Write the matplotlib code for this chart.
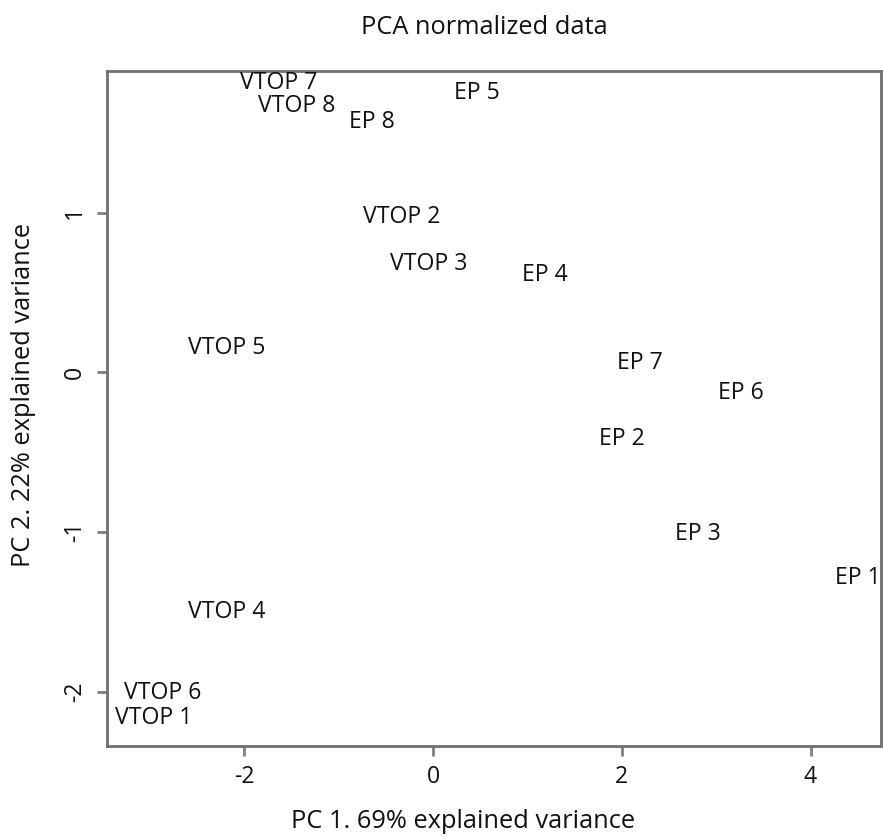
import matplotlib
matplotlib.use("Agg")
import matplotlib.pyplot as plt

# Data (PC1, PC2 scores)
labels = ["VTOP 7", "VTOP 8", "EP 8", "EP 5", "VTOP 2", "VTOP 3", "EP 4", "VTOP 5",
          "EP 7", "EP 6", "EP 2", "EP 3", "EP 1", "VTOP 4", "VTOP 6", "VTOP 1"]
pc1 = [-1.63, -1.44, -0.65, 0.47, -0.33, -0.05, 1.19, -2.19,
       2.19, 3.26, 2.00, 2.81, 4.50, -2.18, -2.86, -2.96]
pc2 = [1.81, 1.67, 1.57, 1.75, 0.97, 0.68, 0.61, 0.155,
       0.06, -0.13, -0.42, -1.01, -1.29, -1.50, -2.01, -2.165]
xticks = [-2, 0, 2, 4]
yticks = [-2, -1, 0, 1]

W, H = 883, 839
plt.rcParams['font.family'] = ['Open Sans', 'DejaVu Sans']
fig = plt.figure(figsize=(W / 100, H / 100), dpi=100)
ax = fig.add_axes([106.5 / W, 1 - 746 / H, (881 - 106.5) / W, (746 - 70.5) / H])

fs = 16.6
fs_lab = 18.3
txtc = "#111111"
for lab, x, y in zip(labels, pc1, pc2):
    ax.text(x, y, lab, ha="center", va="center", fontsize=fs, color=txtc, clip_on=False)

ax.set_xlim(-3.459, 4.746)
ax.set_ylim(-2.340, 1.890)
ax.set_xticks(xticks)
ax.set_yticks(yticks)
ax.set_xticklabels([str(t) for t in xticks], fontsize=fs, color=txtc)
ax.set_yticklabels([str(t) for t in yticks], fontsize=fs, color=txtc, rotation=90, va="center")
ax.tick_params(axis="both", direction="out", length=7, width=2, color="#808080", pad=7)
for s in ax.spines.values():
    s.set_color("#707070")
    s.set_linewidth(2)

fig.text(484 / W, 1 - 28 / H, "PCA normalized data", ha="center", va="center", fontsize=fs_lab, color=txtc)
fig.text(463 / W, 1 - 822 / H, "PC 1. 69% explained variance", ha="center", va="center", fontsize=fs_lab, color=txtc)
fig.text(24 / W, 1 - 395 / H, "PC 2. 22% explained variance", ha="center", va="center", fontsize=fs_lab,
         color=txtc, rotation=90)

fig.savefig("out.png", dpi=100, facecolor="white")
